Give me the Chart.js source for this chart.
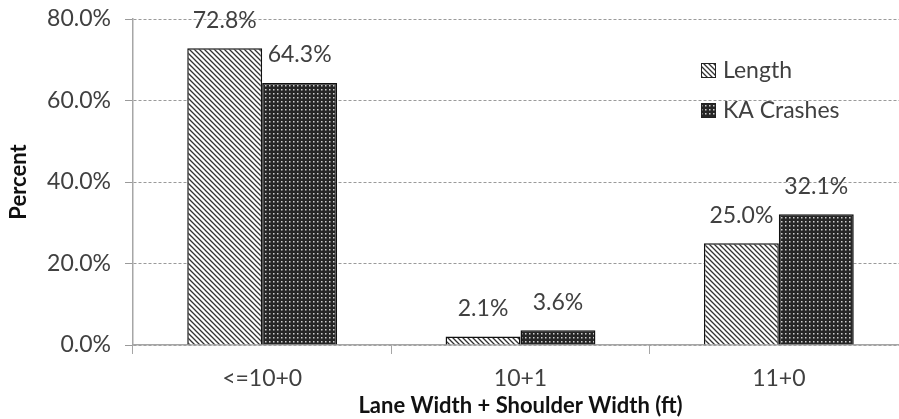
<!DOCTYPE html>
<html>
<head>
<meta charset="utf-8">
<script src="https://cdn.jsdelivr.net/npm/chart.js@4/dist/chart.umd.min.js"></script>
<style>
  html, body { margin: 0; padding: 0; background: #fff; overflow: hidden; }
  #wrap { width: 908px; height: 419px; }
</style>
</head>
<body>
<div id="wrap"><canvas id="chart"></canvas></div>
<script>
// Data
const categories = ['<=10+0', '10+1', '11+0'];
const lengthPct = [72.8, 2.1, 25.0];
const crashPct = [64.3, 3.6, 32.1];
const yTicks = [0, 20, 40, 60, 80];

const FONT = 'Lato';
const TEXT = '#404040';

// Hatch patterns like the original
function diagPattern() {
    const c = document.createElement('canvas');
    c.width = 5; c.height = 5;
    const g = c.getContext('2d');
    g.fillStyle = '#fff';
    g.fillRect(0, 0, 5, 5);
    g.strokeStyle = '#333';
    g.lineWidth = 1.3;
    g.beginPath();
    g.moveTo(-1, -1); g.lineTo(6, 6);
    g.moveTo(-4, 1); g.lineTo(4, 9);
    g.moveTo(1, -4); g.lineTo(9, 4);
    g.stroke();
    return g.createPattern(c, 'repeat');
}

function dotPattern() {
    const c = document.createElement('canvas');
    c.width = 4; c.height = 4;
    const g = c.getContext('2d');
    g.fillStyle = '#262626';
    g.fillRect(0, 0, 4, 4);
    g.fillStyle = '#cfcfcf';
    g.fillRect(1, 1, 1.5, 1.5);
    return g.createPattern(c, 'repeat');
}

const lengthFill = diagPattern();
const crashFill = dotPattern();

// Value labels above the bars
const valueLabels = {
    id: 'valueLabels',
    afterDatasetsDraw(chart) {
        const ctx = chart.ctx;
        ctx.save();
        ctx.font = `23px ${FONT}`;
        ctx.fillStyle = TEXT;
        ctx.textAlign = 'center';
        ctx.textBaseline = 'middle';
        chart.data.datasets.forEach((ds, i) => {
            chart.getDatasetMeta(i).data.forEach((bar, j) => {
                ctx.fillText(ds.data[j].toFixed(1) + '%', bar.x, bar.y - 28);
            });
        });
        ctx.restore();
    }
};

// Legend drawn inside the plot area
const innerLegend = {
    id: 'innerLegend',
    afterDraw(chart) {
        const ctx = chart.ctx;
        ctx.save();
        ctx.font = `23px ${FONT}`;
        ctx.textBaseline = 'middle';
        chart.data.datasets.forEach((ds, i) => {
            const y = 71 + i * 40;
            ctx.fillStyle = ds.backgroundColor;
            ctx.fillRect(701, y - 8, 15, 15);
            ctx.strokeStyle = '#222';
            ctx.lineWidth = 1;
            ctx.strokeRect(701.5, y - 7.5, 14, 14);
            ctx.fillStyle = TEXT;
            ctx.fillText(ds.label, 723, y);
        });
        ctx.restore();
    }
};

new Chart(document.getElementById('chart'), {
    type: 'bar',
    data: {
        labels: categories,
        datasets: [{
            label: 'Length',
            data: lengthPct,
            backgroundColor: lengthFill,
            borderColor: '#111',
            borderWidth: 1.5,
            categoryPercentage: 0.58,
            barPercentage: 1.0
        }, {
            label: 'KA Crashes',
            data: crashPct,
            backgroundColor: crashFill,
            borderColor: '#111',
            borderWidth: 1.5,
            categoryPercentage: 0.58,
            barPercentage: 1.0
        }]
    },
    options: {
        responsive: true,
        maintainAspectRatio: false,
        animation: false,
        layout: { padding: { top: 19, right: 0, left: 0, bottom: 0 } },
        plugins: {
            legend: { display: false },
            tooltip: { enabled: false }
        },
        scales: {
            x: {
                grid: {
                    offset: true,
                    drawOnChartArea: false,
                    drawTicks: true,
                    tickLength: 9,
                    color: '#a6a6a6'
                },
                border: { color: '#a6a6a6', width: 1.5 },
                ticks: {
                    color: TEXT,
                    font: { family: FONT, size: 23 },
                    padding: 11
                },
                title: {
                    display: true,
                    text: 'Lane Width + Shoulder Width (ft)',
                    color: '#111',
                    font: { family: FONT, size: 22, weight: 'bold' },
                    padding: { top: 0, bottom: 0 }
                },
                afterFit(scale) {
                    scale.height = 74;
                    scale.paddingLeft = 0;
                    scale.paddingRight = 0;
                }
            },
            y: {
                min: 0,
                max: 80,
                afterBuildTicks(scale) {
                    scale.ticks = yTicks.map(v => ({ value: v }));
                },
                grid: {
                    color: '#9a9a9a',
                    lineWidth: 1,
                    tickLength: 8
                },
                border: { color: '#a6a6a6', width: 1.5, dash: [3, 2] },
                ticks: {
                    color: TEXT,
                    font: { family: FONT, size: 23 },
                    padding: 14,
                    callback: v => v.toFixed(1) + '%'
                },
                title: {
                    display: true,
                    text: 'Percent',
                    color: '#111',
                    font: { family: FONT, size: 22, weight: 'bold' },
                    padding: { top: 6, bottom: 0 }
                },
                afterFit(scale) {
                    scale.width = 133;
                    scale.paddingTop = 0;
                    scale.paddingBottom = 0;
                }
            }
        }
    },
    plugins: [valueLabels, innerLegend]
});
</script>
</body>
</html>
